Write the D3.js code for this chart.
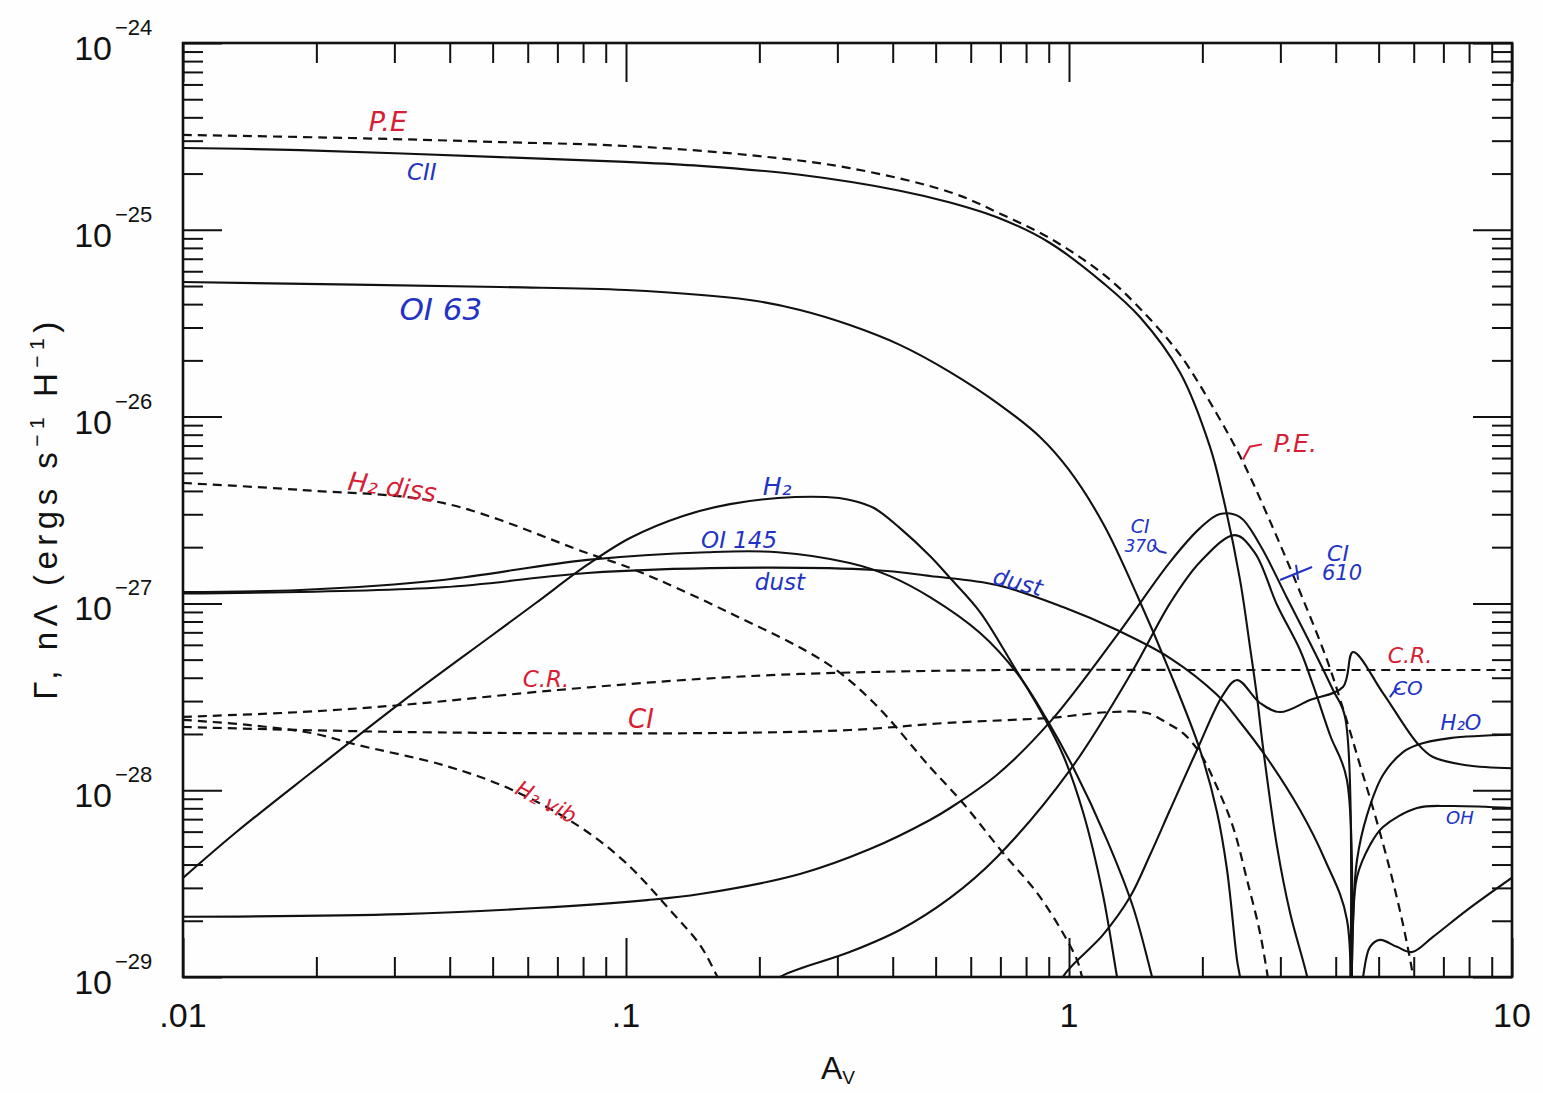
<!DOCTYPE html>
<html><head><meta charset="utf-8">
<script src="https://cdn.jsdelivr.net/npm/d3@7"></script>
<style>body{margin:0;background:#fff}svg{display:block}</style>
</head><body>
<svg id="chart" width="1543" height="1093"></svg>
<script>
// ---------- DATA: [A_V, rate (ergs s^-1 H^-1)] ----------
// heating (dashed)
const PE     = [[0.01,3.22e-25],[0.0238,3.10e-25],[0.0519,2.95e-25],[0.1,2.81e-25],[0.19,2.51e-25],[0.32,2.14e-25],[0.539,1.59e-25],[0.699,1.22e-25],[0.906,9.0e-26],[1.199,5.75e-26],[1.437,3.85e-26],[1.781,2.14e-26],[2.163,1.02e-26],[2.471,5.71e-27],[2.888,2.53e-27],[3.323,1.151e-27],[3.823,4.98e-28],[4.198,2.53e-28],[4.538,1.364e-28],[4.906,7.36e-29],[5.304,3.74e-29],[5.646,2.02e-29],[5.947,1.09e-29],[6.04,8.5e-30]];
const H2DISS = [[0.01,4.41e-27],[0.0184,4.05e-27],[0.0386,3.45e-27],[0.0817,1.86e-27],[0.1048,1.51e-27],[0.1717,8.88e-28],[0.283,4.80e-28],[0.363,2.93e-28],[0.4855,1.33e-28],[0.576,8.54e-29],[0.71,4.61e-29],[0.847,2.82e-29],[0.969,1.72e-29],[1.043,1.23e-29],[1.07,1.0e-29],[1.09,8e-30]];
const CR     = [[0.01,2.47e-28],[0.0184,2.62e-28],[0.0312,2.86e-28],[0.0702,3.44e-28],[0.147,3.94e-28],[0.247,4.19e-28],[0.699,4.40e-28],[2,4.40e-28],[5,4.40e-28],[10,4.40e-28]];
const CIHEAT = [[0.01,2.18e-28],[0.0312,2.05e-28],[0.147,2.02e-28],[0.32,2.10e-28],[0.528,2.29e-28],[0.906,2.44e-28],[1.238,2.62e-28],[1.5,2.59e-28],[1.664,2.29e-28],[1.809,2.02e-28],[1.976,1.58e-28],[2.158,1.04e-28],[2.346,6.35e-29],[2.523,3.31e-29],[2.699,1.72e-29],[2.81,1.0e-29],[2.85,8e-30]];
const H2VIB  = [[0.01,2.38e-28],[0.01416,2.23e-28],[0.01955,2.02e-28],[0.0247,1.75e-28],[0.0392,1.35e-28],[0.0556,1.0e-28],[0.0788,6.35e-29],[0.1,4.08e-29],[0.1257,2.28e-29],[0.147,1.48e-29],[0.161,1.0e-29],[0.17,8e-30]];
// cooling (solid)
const CII    = [[0.01,2.74e-25],[0.0184,2.67e-25],[0.0519,2.45e-25],[0.1,2.31e-25],[0.147,2.20e-25],[0.247,1.97e-25],[0.415,1.62e-25],[0.539,1.40e-25],[0.699,1.15e-25],[0.906,8.5e-26],[1.199,5.15e-26],[1.447,3.40e-26],[1.781,1.72e-26],[2.081,6.88e-27],[2.227,3.71e-27],[2.432,1.34e-27],[2.562,5.84e-28],[2.657,3.16e-28],[2.741,1.70e-28],[2.949,4.97e-29],[3.156,2.20e-29],[3.45,1.0e-29],[3.55,7e-30]];
const OI63   = [[0.01,5.25e-26],[0.0519,4.94e-26],[0.1,4.76e-26],[0.19,4.21e-26],[0.247,3.72e-26],[0.32,3.09e-26],[0.415,2.42e-26],[0.539,1.73e-26],[0.699,1.153e-26],[0.86,7.78e-27],[1.0,5.18e-27],[1.199,2.63e-27],[1.424,1.109e-27],[1.69,4.29e-28],[1.976,1.641e-28],[2.158,7.64e-29],[2.274,3.74e-29],[2.395,1.23e-29],[2.432,1.0e-29],[2.47,7e-30]];
const H2     = [[0.01,3.39e-29],[0.0132,5.97e-29],[0.01955,1.251e-28],[0.0312,2.97e-28],[0.0496,6.69e-28],[0.0626,1.005e-27],[0.0817,1.606e-27],[0.1021,2.24e-27],[0.1345,2.94e-27],[0.1717,3.40e-27],[0.2203,3.665e-27],[0.2828,3.71e-27],[0.3203,3.58e-27],[0.3628,3.24e-27],[0.4154,2.53e-27],[0.4855,1.794e-27],[0.539,1.368e-27],[0.6297,8.99e-28],[0.7474,4.68e-28],[0.8602,2.688e-28],[0.9694,1.543e-28],[1.0755,7.64e-29],[1.1933,2.75e-29],[1.2837,1.0e-29],[1.32,7e-30]];
const OI145  = [[0.01,1.15e-27],[0.0184,1.18e-27],[0.0386,1.335e-27],[0.0817,1.71e-27],[0.1524,1.88e-27],[0.22,1.88e-27],[0.32,1.645e-27],[0.3945,1.40e-27],[0.4855,1.08e-27],[0.63,6.94e-28],[0.763,4.24e-28],[0.892,2.38e-28],[1.021,1.33e-28],[1.2185,5.41e-29],[1.395,2.37e-29],[1.54,1.0e-29],[1.6,7e-30]];
const DUST   = [[0.01,1.13e-27],[0.0386,1.22e-27],[0.0817,1.455e-27],[0.1717,1.55e-27],[0.363,1.51e-27],[0.4855,1.402e-27],[0.688,1.254e-27],[0.9694,9.565e-28],[1.2837,7.20e-28],[1.6904,5.10e-28],[2.1584,3.24e-28],[2.432,2.318e-28],[2.799,1.487e-28],[3.3226,7.83e-29],[3.784,4.23e-29],[4.2415,2.02e-29],[4.26,2e-30]];
const CI370  = [[0.01,2.10e-29],[0.0312,2.17e-29],[0.0626,2.34e-29],[0.1115,2.58e-29],[0.147,2.78e-29],[0.247,3.56e-29],[0.3554,4.84e-29],[0.4855,6.93e-29],[0.539,8.03e-29],[0.688,1.21e-28],[0.906,2.32e-28],[1.284,6.77e-28],[1.69,1.665e-27],[1.976,2.53e-27],[2.192,3.01e-27],[2.432,2.90e-27],[2.699,2.054e-27],[3.106,1.069e-27],[3.5,6.14e-28],[3.944,3.44e-28],[4.198,2.47e-28],[4.24,1e-30]];
const CI610  = [[0.2,8e-30],[0.2226,1.0e-29],[0.32,1.36e-29],[0.415,1.785e-29],[0.539,2.65e-29],[0.688,4.39e-29],[1.005,1.28e-28],[1.395,4.40e-28],[1.69,1.0e-27],[1.976,1.665e-27],[2.37,2.32e-27],[2.63,1.86e-27],[2.949,9.80e-28],[3.323,5.63e-28],[3.555,3.66e-28],[3.883,1.975e-28],[4.24,1.134e-28],[4.25,1e-30]];
const CO     = [[0.95,8e-30],[0.969,1.0e-29],[1.193,1.68e-29],[1.373,2.68e-29],[1.5236,4.50e-29],[1.69,7.83e-29],[1.945,1.641e-28],[2.227,3.24e-28],[2.395,3.89e-28],[2.699,2.93e-28],[2.995,2.62e-28],[3.5,3.04e-28],[4.154,3.57e-28],[4.376,5.49e-28],[5.114,3.31e-28],[6.104,1.79e-28],[6.631,1.505e-28],[7.9,1.36e-28],[10,1.31e-28]];
const H2O    = [[4.34,5e-30],[4.376,2.02e-29],[4.468,4.23e-29],[4.707,7.36e-29],[5.114,1.206e-28],[5.676,1.60e-28],[6.104,1.746e-28],[7.244,1.90e-28],[10,1.98e-28]];
const OH     = [[4.34,5e-30],[4.376,1.90e-29],[4.468,3.43e-29],[4.781,5.09e-29],[5.114,6.35e-29],[6.104,8.03e-29],[7.244,8.23e-29],[10,8.03e-29]];
const DEEP   = [[4.55,8e-30],[4.61,1.0e-29],[4.781,1.45e-29],[5.035,1.58e-29],[5.5,1.45e-29],[5.947,1.36e-29],[6.631,1.64e-29],[7.913,2.28e-29],[10,3.4e-29]];

// ticks
const xMajorTicks = [0.01, 0.1, 1, 10];
const xTickLabels = [".01", ".1", "1", "10"];
const yExponents  = [-24, -25, -26, -27, -28, -29];

// annotation texts (handwritten labels)
const RED = "#d61f35", BLUE = "#2233c4";
const labels = [
  {t:"P.E",    av:0.0290, v:3.78e-25, c:RED,  s:27, r:0},
  {t:"CII",    av:0.0346, v:2.04e-25, c:BLUE, s:23, r:0},
  {t:"OI 63",  av:0.0382, v:3.77e-26, c:BLUE, s:31, r:0},
  {t:"H₂ diss",av:0.0297, v:4.20e-27, c:RED,  s:26, r:8},
  {t:"H₂",     av:0.2193, v:4.25e-27, c:BLUE, s:25, r:0},
  {t:"OI 145", av:0.180,  v:2.19e-27, c:BLUE, s:23, r:0},
  {t:"dust",   av:0.2226, v:1.30e-27, c:BLUE, s:23, r:0},
  {t:"dust",   av:0.767,  v:1.30e-27, c:BLUE, s:23, r:15},
  {t:"C.R.",   av:0.066,  v:3.94e-28, c:RED,  s:23, r:0},
  {t:"CI",     av:0.1081, v:2.41e-28, c:RED,  s:26, r:0},
  {t:"H₂ vib", av:0.066,  v:8.64e-29, c:RED,  s:22, r:28},
  {t:"P.E.",   av:3.24,   v:7.22e-27, c:RED,  s:25, r:0},
  {t:"CI",     av:1.447,  v:2.60e-27, c:BLUE, s:19, r:0},
  {t:"370",    av:1.452,  v:2.02e-27, c:BLUE, s:17, r:0},
  {t:"CI",     av:4.048,  v:1.84e-27, c:BLUE, s:22, r:0},
  {t:"610",    av:4.133,  v:1.455e-27,c:BLUE, s:21, r:0},
  {t:"C.R.",   av:5.886,  v:5.23e-28, c:RED,  s:22, r:0},
  {t:"CO",     av:5.824,  v:3.52e-28, c:BLUE, s:20, r:0},
  {t:"H₂O",    av:7.67,   v:2.29e-28, c:BLUE, s:21, r:0},
  {t:"OH",     av:7.63,   v:7.10e-29, c:BLUE, s:18, r:0}
];
// small pointer strokes next to labels: [A_V, rate] polylines
const pointers = [
  {c:RED,  pts:[[2.471,5.9e-27],[2.56,6.9e-27],[2.727,7.1e-27]]},
  {c:BLUE, pts:[[2.995,1.335e-27],[3.537,1.566e-27]]},
  {c:BLUE, pts:[[3.254,1.606e-27],[3.292,1.335e-27]]},
  {c:BLUE, pts:[[1.55,2.05e-27],[1.60,1.90e-27],[1.66,1.86e-27]]},
  {c:BLUE, pts:[[5.30,3.15e-28],[5.45,3.45e-28],[5.6,3.5e-28]]}
];

// ---------- CHART ----------
const svg = d3.select("#chart");
const L = 183, R = 1512, T = 43, B = 977;
const x = d3.scaleLog().domain([0.01, 10]).range([L, R]);
const y = d3.scaleLog().domain([1e-29, 1e-24]).range([B, T]);

svg.append("rect").attr("width",1543).attr("height",1093).attr("fill","#fefefe");

svg.append("defs").append("clipPath").attr("id","plotclip")
  .append("rect").attr("x",L).attr("y",T).attr("width",R-L).attr("height",B-T);

// minor ticks
const xMinorTicks = [];
[-2,-1,0].forEach(k => { for (let m=2;m<=9;m++) xMinorTicks.push(m*Math.pow(10,k)); });
const yMajorTicks = yExponents.map(e => +("1e"+e));
const yMinorTicks = [];
[-29,-28,-27,-26,-25].forEach(k => { for (let m=2;m<=9;m++) yMinorTicks.push(+(m+"e"+k)); });

function styleAxis(g){
  g.select(".domain").remove();
  g.selectAll(".tick line").attr("stroke","#111").attr("stroke-width",2);
  g.selectAll(".tick text").remove();
}
const MAJ = 39, MIN = 20;
svg.append("g").attr("transform",`translate(0,${B})`).call(d3.axisBottom(x).tickValues(xMajorTicks).tickSize(-MAJ)).call(styleAxis);
svg.append("g").attr("transform",`translate(0,${B})`).call(d3.axisBottom(x).tickValues(xMinorTicks).tickSize(-MIN)).call(styleAxis);
svg.append("g").attr("transform",`translate(0,${T})`).call(d3.axisTop(x).tickValues(xMajorTicks).tickSize(-MAJ)).call(styleAxis);
svg.append("g").attr("transform",`translate(0,${T})`).call(d3.axisTop(x).tickValues(xMinorTicks).tickSize(-MIN)).call(styleAxis);
svg.append("g").attr("transform",`translate(${L},0)`).call(d3.axisLeft(y).tickValues(yMajorTicks).tickSize(-MAJ)).call(styleAxis);
svg.append("g").attr("transform",`translate(${L},0)`).call(d3.axisLeft(y).tickValues(yMinorTicks).tickSize(-MIN)).call(styleAxis);
svg.append("g").attr("transform",`translate(${R},0)`).call(d3.axisRight(y).tickValues(yMajorTicks).tickSize(-MAJ)).call(styleAxis);
svg.append("g").attr("transform",`translate(${R},0)`).call(d3.axisRight(y).tickValues(yMinorTicks).tickSize(-MIN)).call(styleAxis);

// frame
svg.append("rect").attr("x",L).attr("y",T).attr("width",R-L).attr("height",B-T)
  .attr("fill","none").attr("stroke","#111").attr("stroke-width",2.6);

// tick labels
const FONT = "'Liberation Sans', Arial, Helvetica, sans-serif";
svg.append("g").selectAll("text").data(xMajorTicks).join("text")
  .attr("x", d => x(d)).attr("y", B + 50)
  .attr("text-anchor","middle").attr("font-family",FONT).attr("font-size",34).attr("fill","#111")
  .text((d,i) => xTickLabels[i]);
const yl = svg.append("g");
yExponents.forEach(e => {
  const yy = y(+("1e"+e));
  yl.append("text").attr("x",112).attr("y",yy+17).attr("text-anchor","end")
    .attr("font-family",FONT).attr("font-size",34).attr("fill","#111").text("10");
  yl.append("text").attr("x",115).attr("y",yy-8).attr("text-anchor","start")
    .attr("font-family",FONT).attr("font-size",22).attr("fill","#111").text("−"+Math.abs(e));
});

// axis titles
const xt = svg.append("text").attr("x",838).attr("y",1079).attr("text-anchor","middle")
  .attr("font-family",FONT).attr("font-size",32).attr("fill","#111");
xt.append("tspan").text("A");
xt.append("tspan").attr("font-size",19).attr("dy",5).text("V");

const ytl = svg.append("text").attr("transform","translate(57,508) rotate(-90)")
  .attr("text-anchor","middle").attr("font-family",FONT).attr("font-size",33)
  .attr("letter-spacing",5.5).attr("fill","#111");
ytl.append("tspan").text("Γ, nΛ (ergs s");
ytl.append("tspan").attr("font-size",21).attr("dy",-13).text("−1");
ytl.append("tspan").attr("dy",13).text(" H");
ytl.append("tspan").attr("font-size",21).attr("dy",-13).text("−1");
ytl.append("tspan").attr("dy",13).text(")");

// curves
const line = d3.line().x(d => x(d[0])).y(d => y(d[1])).curve(d3.curveCatmullRom.alpha(0.5));
const solid = [CII, OI63, H2, OI145, DUST, CI370, CI610, CO, H2O, OH, DEEP];
const dashed = [PE, H2DISS, CR, CIHEAT, H2VIB];
const cg = svg.append("g").attr("clip-path","url(#plotclip)");
cg.selectAll("path.solid").data(solid).join("path").attr("class","solid")
  .attr("d", line).attr("fill","none").attr("stroke","#111").attr("stroke-width",2.1)
  .attr("stroke-linejoin","round");
cg.selectAll("path.dashed").data(dashed).join("path").attr("class","dashed")
  .attr("d", line).attr("fill","none").attr("stroke","#111").attr("stroke-width",2.2)
  .attr("stroke-dasharray","9,6");

// annotations
const LFONT = "'DejaVu Sans', 'Noto Sans', sans-serif";
svg.append("g").selectAll("text").data(labels).join("text")
  .attr("transform", d => `translate(${x(d.av)},${y(d.v)}) rotate(${d.r})`)
  .attr("text-anchor","middle").attr("dominant-baseline","central")
  .attr("font-family",LFONT).attr("font-style","italic").attr("font-size",d => d.s)
  .attr("fill", d => d.c).text(d => d.t);
const pl = d3.line().x(d => x(d[0])).y(d => y(d[1]));
svg.append("g").selectAll("path").data(pointers).join("path")
  .attr("d", d => pl(d.pts)).attr("fill","none").attr("stroke", d => d.c).attr("stroke-width",2);
</script>
</body></html>
